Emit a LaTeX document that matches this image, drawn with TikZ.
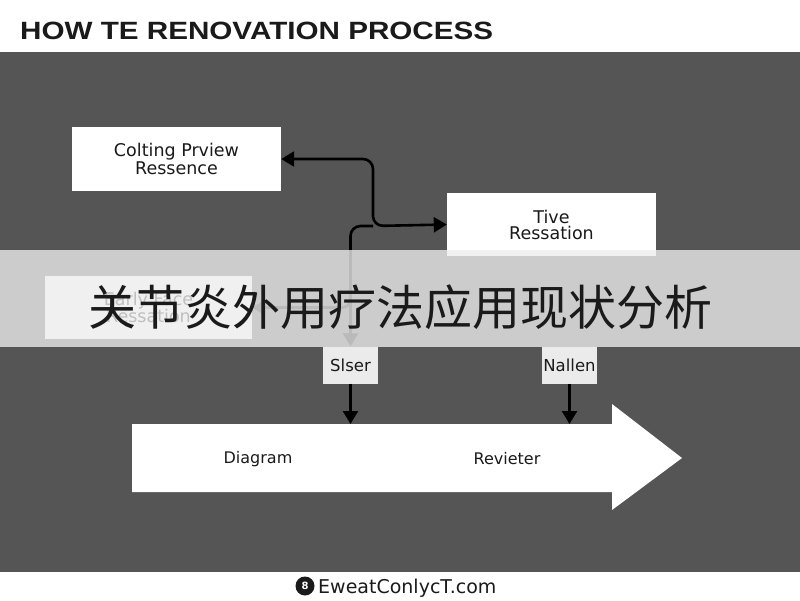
\documentclass[tikz,border=0pt]{standalone}
\usepackage{fontspec}
\setmainfont{DejaVu Sans}
\newfontfamily\titlefont{Liberation Sans}
\newfontfamily\cjk{Noto Sans CJK SC}
\usetikzlibrary{arrows.meta}
\definecolor{panel}{HTML}{555555}
\definecolor{bandc}{HTML}{ECECEC}
\definecolor{ink}{HTML}{1A1A1A}
\definecolor{tagc}{HTML}{EBEBEB}
\begin{document}
\begin{tikzpicture}[x=1pt,y=-1pt,
  box/.style={fill=white, inner sep=0pt, align=center, text=ink,
    font=\fontsize{17.5}{16}\selectfont},
  tag/.style={fill=tagc, inner sep=0pt, align=center, text=ink,
    minimum width=55pt, minimum height=37pt, font=\fontsize{16.5}{16}\selectfont},
  conn/.style={line width=2.6pt, black, -{Triangle[length=13pt,width=15pt]}},
  biconn/.style={line width=2.6pt, black, rounded corners=10pt,
    {Triangle[length=13pt,width=15pt]}-{Triangle[length=13pt,width=15pt]}},
  lbl/.style={text=ink, font=\fontsize{16}{16}\selectfont, inner sep=0pt}]
\useasboundingbox (0,0) rectangle (800,600);
\fill[white] (0,0) rectangle (800,600);
\fill[panel] (0,52) rectangle (800,572);
% boxes
\node[box, minimum width=209pt, minimum height=64pt] (b1) at (176.5,159) {Colting Prview\\[0pt]Ressence};
\node[box, minimum width=209pt, minimum height=63pt] (b2) at (551.5,224.5) {Tive\\[0pt]Ressation};
\node[box, minimum width=207pt, minimum height=63pt] (hid) at (148.5,307.5) {Early Face\\[0pt]Ressation};
\node[tag] (slser) at (350.5,365) {Slser};
\node[tag] (nallen) at (569.5,365) {Nallen};
% connectors
\coordinate (j) at (373,226);
\draw[biconn] (b1.east) -| (j) -- (b2.west);
\draw[conn, rounded corners=10pt] (j) -| (slser.north);
\draw[conn, rounded corners=8pt] (slser.north |- 0,296) |- (hid.east);
% big arrow
\fill[white] (132,424) -- (612,424) -- (612,404) -- (682,458) -- (612,510) -- (612,492) -- (132,492) -- cycle;
\coordinate (atop) at (0,424);
\node[lbl] (diag) at (258,459) {Diagram};
\node[lbl] (rev) at (507,459) {Revieter};
\draw[conn] (slser.south) -- (slser.south |- atop);
\draw[conn] (nallen.south) -- (nallen.south |- atop);
% band
\fill[bandc, fill opacity=0.79] (0,250) rectangle (800,347);
\node[text=ink, inner sep=0pt, font=\cjk\fontsize{48}{48}\selectfont] (cn) at (400,307) {关节炎外用疗法应用现状分析};
% title
\node[anchor=base west, inner sep=0pt, text=ink, font=\titlefont\bfseries\fontsize{25}{25}\selectfont] (title) at (20,39) {\scalebox{1.185}[1]{HOW TE RENOVATION PROCESS}};
% footer
\node[circle, fill=ink, minimum size=19pt, inner sep=0pt, text=white, font=\bfseries\fontsize{10}{10}\selectfont] (icon) at (305,586) {8};
\node[anchor=base west, inner sep=0pt, text=ink, font=\fontsize{19}{19}\selectfont] (foot) at (318,593) {EweatConlycT.com};
\end{tikzpicture}
\end{document}
